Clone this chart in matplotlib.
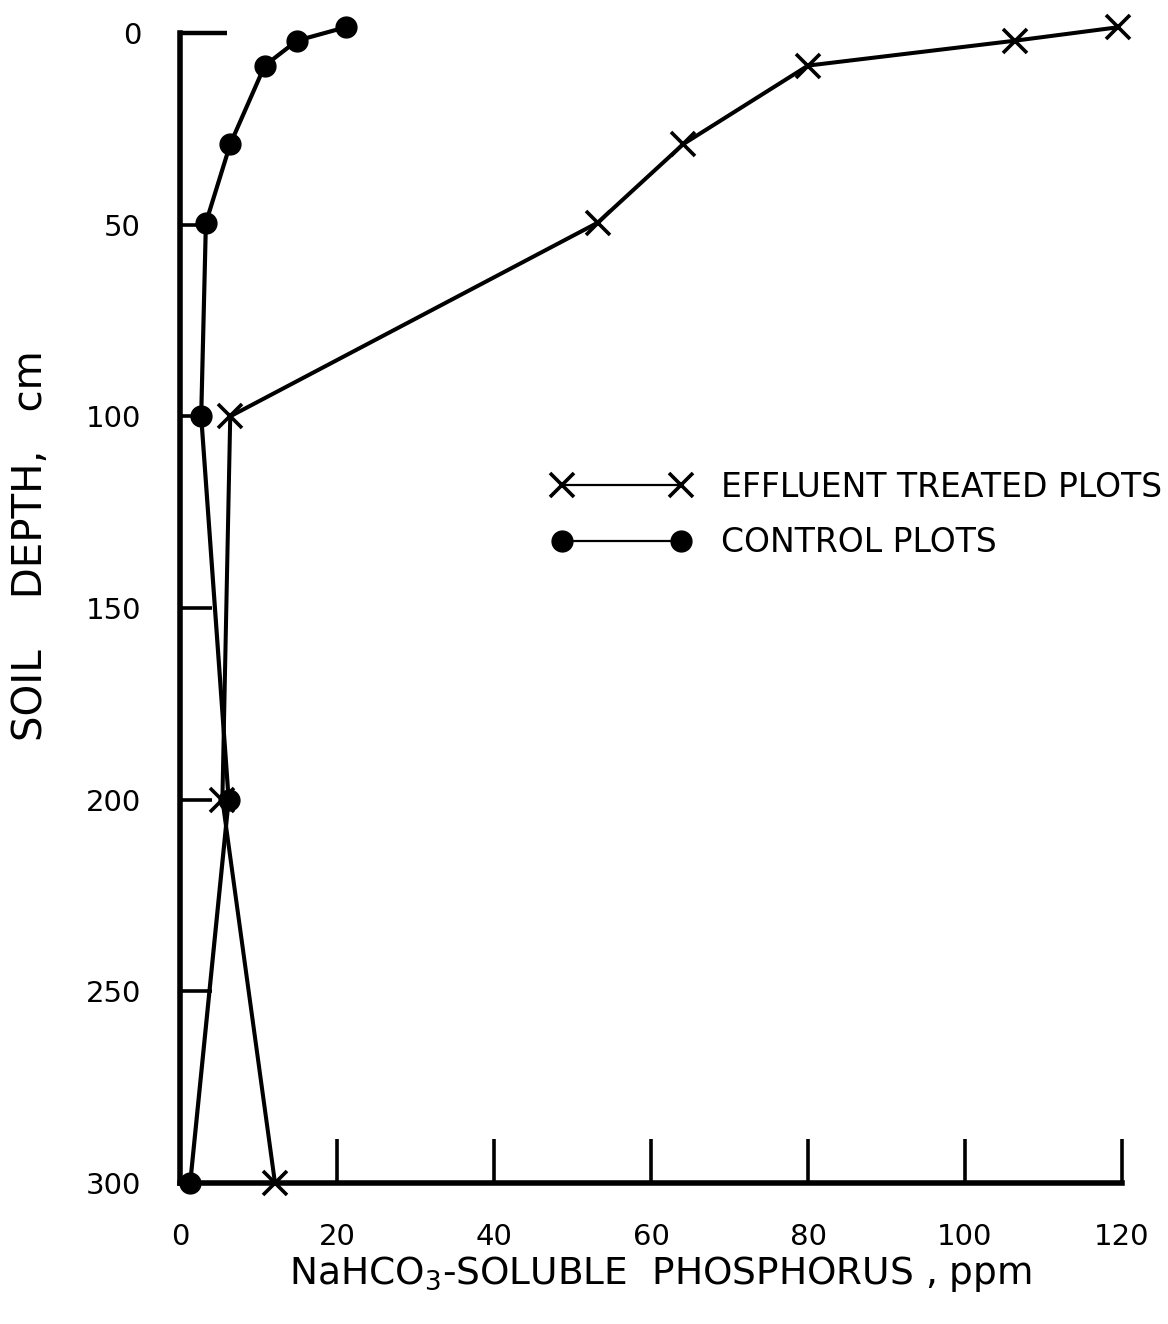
import matplotlib
matplotlib.use("Agg")
import matplotlib.pyplot as plt

# valores
profundidad = [-1.5, 2, 8.5, 29, 49.5, 100, 200, 300]
efluente = [119.5, 106.4, 80.0, 64.1, 53.2, 6.4, 5.4, 12.1]
control = [21.1, 14.9, 10.8, 6.4, 3.3, 2.7, 6.2, 1.3]

xticks = [0, 20, 40, 60, 80, 100, 120]
yticks = [0, 50, 100, 150, 200, 250, 300]

fig = plt.figure(figsize=(11.68, 13.24), dpi=100)
fig.patch.set_facecolor("white")
ax = fig.add_axes([180 / 1168, 1 - 1183 / 1324, 942 / 1168, 1150 / 1324])

ax.plot(efluente, profundidad, color="black", lw=2.9, marker="x",
        ms=17, mew=2.6, clip_on=False, zorder=3,
        label="EFFLUENT TREATED PLOTS")
ax.plot(control, profundidad, color="black", lw=3.0, marker="o",
        ms=15, clip_on=False, zorder=3, label="CONTROL PLOTS")

ax.set_xlim(0, 120)
ax.set_ylim(300, 0)

for lado in ["top", "right"]:
    ax.spines[lado].set_visible(False)
for lado in ["left", "bottom"]:
    ax.spines[lado].set_linewidth(4.0)

ax.set_xticks(xticks)
ax.set_yticks(yticks)
ax.tick_params(axis="x", direction="in", length=32, width=2.6, pad=29,
               labelsize=21)
ax.tick_params(axis="y", direction="in", length=23, width=2.6, pad=28,
               labelsize=21)
# la marca del cero es más larga
ax.yaxis.remove_overlapping_locs = False
ax.set_yticks([0], minor=True)
ax.tick_params(axis="y", which="minor", direction="in", length=34, width=3.2)

leg = ax.legend(loc="center left", bbox_to_anchor=(552 / 1168, 1 - 515 / 1324),
                bbox_transform=fig.transFigure, frameon=False, numpoints=2,
                handlelength=4.2, handletextpad=0.9, labelspacing=0.68,
                borderpad=0, borderaxespad=0, prop={"size": 23.8})
for linea in leg.get_lines():
    linea.set_linewidth(1.6)

fig.text(31 / 1168, 1 - 546 / 1324, "SOIL    DEPTH,   cm", rotation=90,
         ha="center", va="center", fontsize=29)
fig.text(660 / 1168, 1 - 1284 / 1324,
         r"NaHCO$_3$-SOLUBLE  PHOSPHORUS , ppm",
         ha="center", va="baseline", fontsize=27)

fig.savefig("out.png", dpi=100, facecolor="white")
